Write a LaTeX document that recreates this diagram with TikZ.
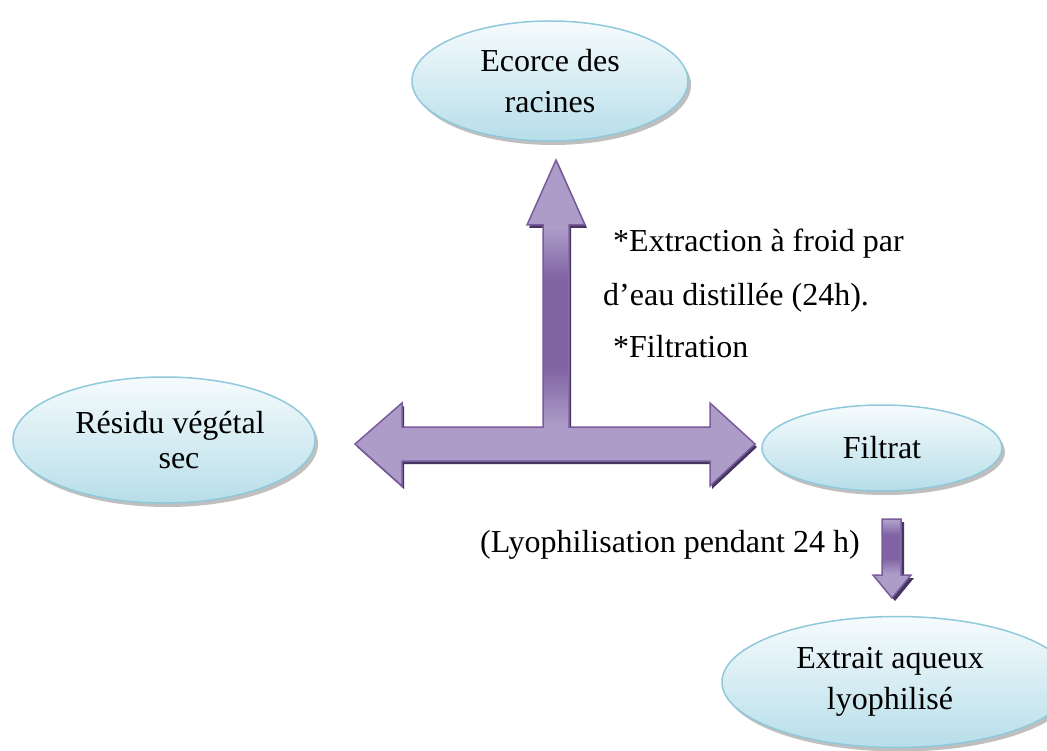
\documentclass[tikz,border=0pt]{standalone}
\usepackage{fontspec}
\setmainfont{Liberation Serif}
\usetikzlibrary{shapes.geometric,shadows}

\definecolor{ellborder}{HTML}{8FC9DB}
\definecolor{elltop}{HTML}{F6FBFD}
\definecolor{ellbot}{HTML}{B7DEE9}
\definecolor{arrlight}{HTML}{AD9CC8}
\definecolor{arrdark}{HTML}{8063A3}
\definecolor{arredge}{HTML}{7A5B9C}
\definecolor{arrshadow}{HTML}{45355F}

\pgfdeclareverticalshading{shaftshade}{100bp}{color(0bp)=(arrlight); color(25bp)=(arrlight); color(40bp)=(arrdark); color(62bp)=(arrdark); color(75bp)=(arrlight); color(100bp)=(arrlight)}

\tikzset{
  bubble/.style={ellipse, draw=ellborder, line width=1.5pt,
    top color=elltop, bottom color=ellbot, inner sep=0pt, align=center,
    font=\fontsize{32}{41}\selectfont,
    drop shadow={shadow xshift=3pt, shadow yshift=-4pt, fill=black!45, opacity=0.55}},
  lbl/.style={font=\fontsize{32}{41}\selectfont, inner sep=0pt, anchor=base west},
  arrfill/.style={fill=arrlight},
  arrshade/.style={shading=shaftshade},
  arroutline/.style={draw=arredge, line width=1.5pt, line join=miter},
  arrshadowstyle/.style={fill=arrshadow}
}

\begin{document}
\begin{tikzpicture}[x=1pt,y=-1pt]
\fill[white] (0,0) rectangle (1047,751);
\clip (0,0) rectangle (1047,751);

% ellipses
\node[bubble, minimum width=276pt, minimum height=120pt] (ecorce) at (550,81) {Ecorce des\\racines};
\node[bubble, minimum width=302pt, minimum height=126pt] (residu) at (164,440) {\hspace*{12pt}Résidu végétal\\[-6pt]\hspace*{30pt}sec};
\node[bubble, minimum width=240pt, minimum height=86pt] (filtrat) at (882,448) {Filtrat};
\node[bubble, minimum width=350pt, minimum height=131pt] (extrait) at (897,682) {\hspace*{-14pt}Extrait aqueux\\\hspace*{-14pt}lyophilisé};

% T-shaped block arrow
\coordinate (J) at (556,444);
\def\Tpath{(355,444) -- (402,403) -- (402,427) -- (543,427) -- (543,225) -- (527,225) -- (556,160) -- (585,225) -- (569,225) -- (569,427) -- (710,427) -- (710,403) -- (755,444) -- (710,486) -- (710,461) -- (402,461) -- (402,486) -- cycle}
\fill[arrshadowstyle, shift={(2,3)}] \Tpath;
\fill[arrfill] \Tpath;
\shade[arrshade] (544,228) rectangle (568,426);
\draw[arroutline] \Tpath;

% small down arrow
\def\Dpath{(882,519) -- (901,519) -- (901,575) -- (911,575) -- (892,598) -- (873,575) -- (882,575) -- cycle}
\fill[arrshadowstyle, shift={(3,3)}] \Dpath;
\fill[arrfill] \Dpath;
\shade[arrshade] (883,521) rectangle (900,574);
\draw[arroutline] \Dpath;

% labels
\node[lbl] (t1) at (613,252) {*Extraction à froid par};
\node[lbl] (t2) at (603,306) {d’eau distillée (24h).};
\node[lbl] (t3) at (613,357) {*Filtration};
\node[lbl] (t4) at (480,552) {(Lyophilisation pendant 24 h)};
\end{tikzpicture}
\end{document}
